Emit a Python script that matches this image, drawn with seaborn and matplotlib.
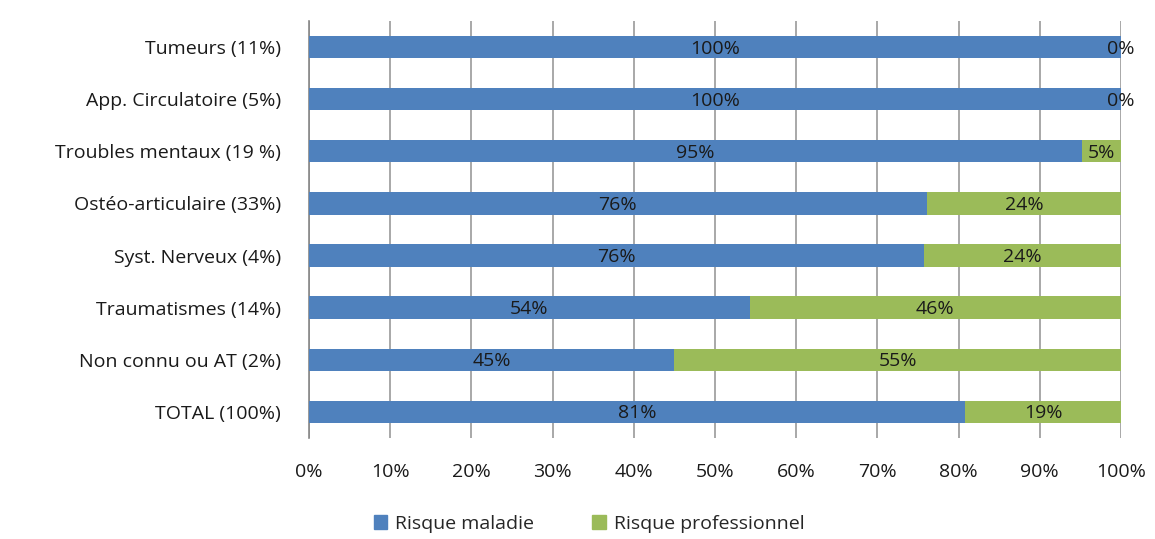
import pandas as pd
import matplotlib.pyplot as plt
import seaborn as sns
from matplotlib.patches import Patch

categories = ['Tumeurs (11%)', 'App. Circulatoire (5%)', 'Troubles mentaux (19 %)',
              'Ostéo-articulaire (33%)', 'Syst. Nerveux (4%)', 'Traumatismes (14%)',
              'Non connu ou AT (2%)', 'TOTAL (100%)']
maladie = [100, 100, 95.2, 76.1, 75.8, 54.3, 45.0, 80.8]
pro = [0, 0, 4.8, 23.9, 24.2, 45.7, 55.0, 19.2]
maladie_labels = ['100%', '100%', '95%', '76%', '76%', '54%', '45%', '81%']
pro_labels = ['0%', '0%', '5%', '24%', '24%', '46%', '55%', '19%']

blue = '#4f81bd'
green = '#9bbb59'
txt = '#1a1a1a'
fs = 14

df = pd.DataFrame({'cat': categories, 'maladie': maladie, 'pro': pro})
df['total'] = df['maladie'] + df['pro']

sns.set_style('white')
plt.rcParams['font.family'] = ['Open Sans', 'DejaVu Sans']

fig = plt.figure(figsize=(11.55, 5.39), dpi=100)
ax = fig.add_axes([0.2675, 0.1874, 0.703, 0.7737])

# stacked: full bar in green, then blue on top
sns.barplot(data=df, y='cat', x='total', color=green, orient='h', width=0.43,
            saturation=1, linewidth=0, ax=ax, zorder=3)
sns.barplot(data=df, y='cat', x='maladie', color=blue, orient='h', width=0.43,
            saturation=1, linewidth=0, ax=ax, zorder=3)

for i in range(len(categories)):
    ax.text(maladie[i] / 2, i + 0.03, maladie_labels[i], ha='center', va='center',
            fontsize=fs, color=txt, zorder=5)
    ax.text(maladie[i] + pro[i] / 2, i + 0.03, pro_labels[i], ha='center', va='center',
            fontsize=fs, color=txt, zorder=5)

ax.set_xlim(0, 100)
ax.set_ylim(7.5, -0.5)
ax.set_xticks(range(0, 101, 10))
ax.set_xticklabels([f'{t}%' for t in range(0, 101, 10)], fontsize=fs, color=txt)
ax.set_yticks(range(len(categories)))
ax.set_yticklabels(categories, fontsize=fs, color=txt)
ax.tick_params(axis='y', length=0, pad=20)
ax.tick_params(axis='x', length=6, color='#888888', pad=12, direction='out')
ax.set_yticks([i - 0.5 for i in range(len(categories) + 1)], minor=True)
ax.tick_params(axis='y', which='minor', length=7, color='#888888', direction='out')
ax.set_xlabel('')
ax.set_ylabel('')
ax.xaxis.grid(True, color='#9a9a9a', linewidth=1.2, zorder=0)
ax.set_axisbelow(True)
for s in ['top', 'right', 'bottom']:
    ax.spines[s].set_visible(False)
ax.spines['left'].set_color('#888888')
ax.spines['left'].set_linewidth(1.2)

handles = [Patch(color=blue, label='Risque maladie'),
           Patch(color=green, label='Risque professionnel')]
fig.legend(handles=handles, loc='center', bbox_to_anchor=(0.51, 0.028), ncol=2,
           frameon=False, fontsize=fs, handlelength=0.7, handleheight=0.7,
           columnspacing=3.0, handletextpad=0.4, borderpad=0.1)

fig.savefig('out.png', dpi=100)
